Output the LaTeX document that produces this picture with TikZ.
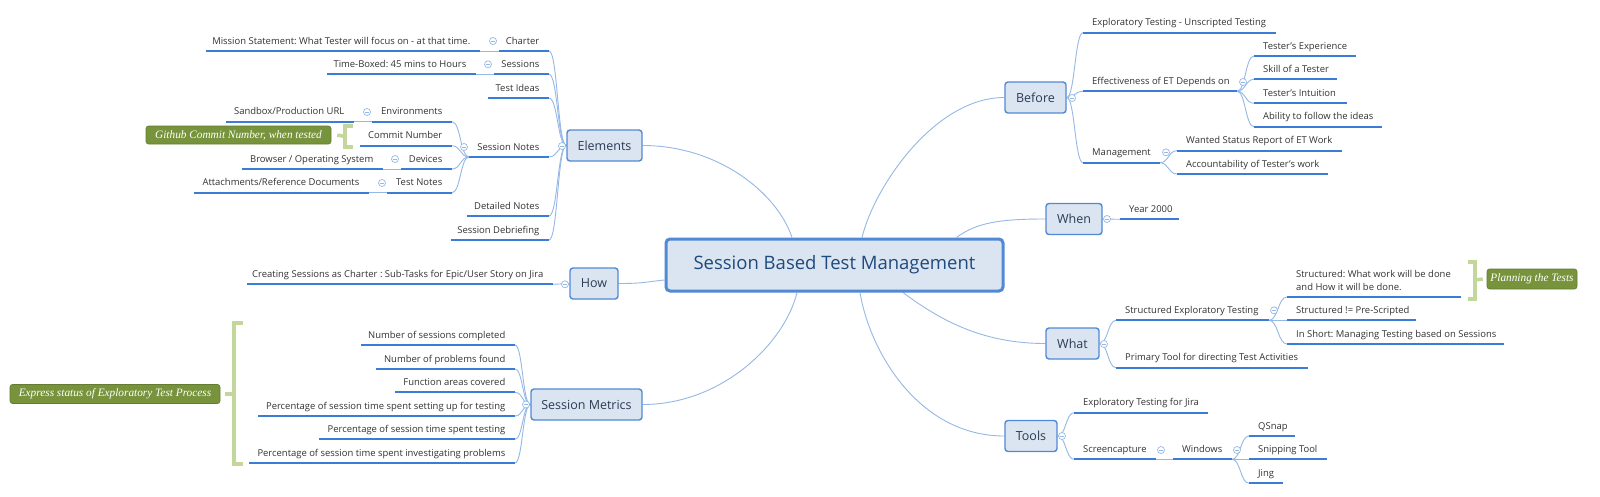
\documentclass[tikz,border=0pt]{standalone}
\usepackage{fontspec}
\setmainfont{Open Sans}
\newfontfamily\notefont{Liberation Serif}
\usetikzlibrary{calc}
\pgfdeclarelayer{back}
\pgfdeclarelayer{bg}
\pgfsetlayers{back,bg,main}
\definecolor{uline}{HTML}{3B7DD6}
\definecolor{conn}{HTML}{95B8E6}
\definecolor{boxfill}{HTML}{DBE5F1}
\definecolor{boxdraw}{HTML}{5189D4}
\definecolor{txt}{HTML}{333333}
\definecolor{toptxt}{HTML}{2B3A55}
\definecolor{maintxt}{HTML}{1F4A7C}
\definecolor{notefill}{HTML}{77933C}
\definecolor{bracket}{HTML}{C3D69B}
\tikzset{
 subtxt/.style={inner sep=0pt, font=\fontsize{9.45}{13}\selectfont, text=txt},
 uln/.style={draw=uline, line width=2.2pt},
 connline/.style={draw=conn, line width=0.9pt},
 topic/.style={draw=boxdraw, fill=boxfill, line width=1.4pt, rounded corners=3pt, font=\fontsize{12.5}{14}\selectfont, text=toptxt, inner sep=0pt},
 mainbox/.style={draw=boxdraw, fill=boxfill, line width=3pt, rounded corners=4pt, font=\fontsize{18.5}{20}\selectfont, text=maintxt, inner sep=0pt},
 notebox/.style={fill=notefill, draw=notefill!85!black, line width=0.6pt, rounded corners=2.5pt, text=white, font={\notefont\itshape\fontsize{11.3}{13}\selectfont}, inner sep=0pt},
 brk/.style={draw=bracket, line width=3.5pt},
 col/.style={circle, draw=conn, fill=white, line width=0.7pt, minimum size=7pt, inner sep=0pt,
   path picture={\draw[conn, line width=0.7pt] ([xshift=-2pt]path picture bounding box.center) -- ([xshift=2pt]path picture bounding box.center);}}
}
\newcommand\ulL[5]{%
 \coordinate (#1L) at (#2,#4); \coordinate (#1R) at (#3,#4);
 \draw[uln] (#1L) -- (#1R);
 \node[subtxt, anchor=base east] (#1) at ($(#1R)+(-9.5,-6.8)$) {#5};}
\newcommand\ulR[5]{%
 \coordinate (#1L) at (#2,#4); \coordinate (#1R) at (#3,#4);
 \draw[uln] (#1L) -- (#1R);
 \node[subtxt, anchor=base west] (#1) at ($(#1L)+(9,-6.8)$) {#5};}
\newcommand\crv[2]{\draw[connline] let \p1=(#1), \p2=(#2) in (\p1) .. controls ({(\x1+\x2)/2},\y1) and ({(\x1+\x2)/2},\y2) .. (\p2);}
\frenchspacing
\begin{document}
\begin{tikzpicture}[x=1pt,y=-1pt]
\begin{pgfonlayer}{back}\fill[white] (0,0) rectangle (1600,496);\end{pgfonlayer}
\useasboundingbox (0,0) rectangle (1600,496);

% central and main topics
\node[mainbox, minimum width=337, minimum height=52] (main) at (834.5,265) {Session Based Test Management};
\node[topic, minimum width=75, minimum height=31] (el) at (604.5,145.5) {Elements};
\node[topic, minimum width=48, minimum height=31] (how) at (594,283.5) {How};
\node[topic, minimum width=111, minimum height=31] (sm) at (586.5,404.5) {Session Metrics};
\node[topic, minimum width=61, minimum height=31] (bf) at (1035.5,97.5) {Before};
\node[topic, minimum width=56, minimum height=31] (wh) at (1074,219) {When};
\node[topic, minimum width=53, minimum height=31] (wt) at (1072.5,343.5) {What};
\node[topic, minimum width=52, minimum height=31] (tl) at (1031,436) {Tools};

% left side
\ulL{ch}{499}{549}{51}{Charter}
\ulL{ms}{206}{480}{51}{Mission Statement: What Tester will focus on - at that time.}
\ulL{se}{494}{549}{74.3}{Sessions}
\ulL{tb}{327}{476}{74.3}{Time-Boxed: 45 mins to Hours}
\ulL{id}{488}{549}{98}{Test Ideas}
\ulL{sn}{469}{549}{157}{Session Notes}
\ulL{en}{372}{452}{121.7}{Environments}
\ulL{sb}{226}{354}{121.7}{Sandbox/Production URL}
\ulL{cm}{360}{452}{145.7}{Commit Number}
\ulL{dv}{401}{452}{169}{Devices}
\ulL{br}{242}{383}{169}{Browser / Operating System}
\ulL{tn}{387}{452}{192.7}{Test Notes}
\ulL{at}{194}{369}{192.7}{Attachments/Reference Documents}
\ulL{dn}{467}{549}{216}{Detailed Notes}
\ulL{sd}{451}{549}{240}{Session Debriefing}
\ulL{cr}{247}{553}{284.3}{Creating Sessions as Charter : Sub-Tasks for Epic/User Story on Jira}
\ulL{ma}{361}{515}{345}{Number of sessions completed}
\ulL{mb}{376}{515}{369}{Number of problems found}
\ulL{mc}{395}{515}{392.3}{Function areas covered}
\ulL{md}{258}{515}{416}{Percentage of session time spent setting up for testing}
\ulL{me}{319}{515}{439.3}{Percentage of session time spent testing}
\ulL{mf}{249}{515}{463}{Percentage of session time spent investigating problems}

% right side
\ulR{ex}{1083}{1276}{32.7}{Exploratory Testing - Unscripted Testing}
\ulR{ef}{1083}{1237}{91.3}{Effectiveness of ET Depends on}
\ulR{mg}{1083}{1160}{162.7}{Management}
\ulR{tx}{1254}{1356}{56}{Tester's Experience}
\ulR{sk}{1254}{1337}{79.3}{Skill of a Tester}
\ulR{iu}{1254}{1347}{103.3}{Tester's Intuition}
\ulR{ab}{1254}{1382}{126.7}{Ability to follow the ideas}
\ulR{wa}{1177}{1342}{150.7}{Wanted Status Report of ET Work}
\ulR{ac}{1177}{1328}{174}{Accountability of Tester's work}
\ulR{yr}{1120}{1179}{219.3}{Year 2000}
\ulR{set}{1116}{1269}{320.3}{Structured Exploratory Testing}
\ulR{pt}{1116}{1308}{367.7}{Primary Tool for directing Test Activities}
\coordinate (stL) at (1287,297); \coordinate (stR) at (1461,297);
\draw[uln] (stL) -- (stR);
\node[subtxt, anchor=base west, align=left] (st) at (1296,290) {Structured: What work will be done\\and How it will be done.};
\ulR{np}{1287}{1416}{320.3}{Structured != Pre-Scripted}
\ulR{is}{1287}{1504}{344}{In Short: Managing Testing based on Sessions}
\ulR{ej}{1074}{1208}{412.7}{Exploratory Testing for Jira}
\ulR{sc}{1074}{1156}{459.3}{Screencapture}
\ulR{wi}{1173}{1232}{459.3}{Windows}
\ulR{qs}{1249}{1295}{436}{QSnap}
\ulR{sp}{1249}{1327}{459.3}{Snipping Tool}
\ulR{ji}{1249}{1283}{483.3}{Jing}

% notes
\node[notebox, minimum width=185, minimum height=18] (gh) at (238.5,135) {Github Commit Number, when tested};
\node[notebox, minimum width=210, minimum height=19] (xp) at (115,394) {Express status of Exploratory Test Process};
\node[notebox, minimum width=90, minimum height=20] (pl) at (1532,279) {Planning the Tests};

% brackets
\draw[brk] (353,126) -- (345,126) -- (345,147) -- (353,147);
\draw[brk] ([xshift=6pt]gh.east) -- (345,136.5);
\draw[brk] (243,323) -- (234,323) -- (234,464) -- (243,464);
\draw[brk] ([xshift=5pt]xp.east) -- (234,394);
\draw[brk] (1468,262) -- (1475,262) -- (1475,299) -- (1468,299);
\draw[brk] ([xshift=-4pt]pl.west) -- (1475,280);

% connectors
\begin{pgfonlayer}{bg}
\draw[connline] (el.east) .. controls +(75,0) and +(-15,-45) .. ([xshift=-42.5pt]main.north);
\draw[connline] (bf.west) .. controls +(-70,0) and +(12,-50) .. ([xshift=27.5pt]main.north);
\draw[connline] ([xshift=122pt]main.north) .. controls +(20,-15) and +(-45,0) .. (wh.west);
\draw[connline] (how.east) .. controls +(25,0) and +(-20,2) .. ([yshift=-15pt]main.west);
\draw[connline] (sm.east) .. controls +(80,0) and +(-12,50) .. ([xshift=-37.5pt]main.south);
\draw[connline] (tl.west) .. controls +(-85,0) and +(10,60) .. ([xshift=25.5pt]main.south);
\draw[connline] (wt.west) .. controls +(-60,0) and +(40,30) .. ([xshift=68.5pt]main.south);
\crv{el.west}{chR} \crv{el.west}{seR} \crv{el.west}{idR}
\crv{el.west}{snR} \crv{el.west}{dnR} \crv{el.west}{sdR}
\draw[connline] (chL) -- (msR);
\draw[connline] (seL) -- (tbR);
\crv{snL}{enR} \crv{snL}{cmR} \crv{snL}{dvR} \crv{snL}{tnR}
\draw[connline] (enL) -- (sbR);
\draw[connline] (dvL) -- (brR);
\draw[connline] (tnL) -- (atR);
\draw[connline] (how.west) -- (crR);
\crv{sm.west}{maR} \crv{sm.west}{mbR} \crv{sm.west}{mcR}
\crv{sm.west}{mdR} \crv{sm.west}{meR} \crv{sm.west}{mfR}
\crv{bf.east}{exL} \crv{bf.east}{efL} \crv{bf.east}{mgL}
\crv{efR}{txL} \crv{efR}{skL} \crv{efR}{iuL} \crv{efR}{abL}
\crv{mgR}{waL} \crv{mgR}{acL}
\draw[connline] (wh.east) -- (yrL);
\crv{wt.east}{setL} \crv{wt.east}{ptL}
\crv{setR}{stL} \crv{setR}{npL} \crv{setR}{isL}
\crv{tl.east}{ejL} \crv{tl.east}{scL}
\draw[connline] (scR) -- (wiL);
\crv{wiR}{qsL} \crv{wiR}{spL} \crv{wiR}{jiL}
\end{pgfonlayer}

% collapse markers
\node[col] (c-el) at (562,146) {};
\node[col] (c-ch) at (493,41) {};
\node[col] (c-se) at (488,64.3) {};
\node[col] (c-en) at (367,112) {};
\node[col] (c-sn) at (464,147) {};
\node[col] (c-dv) at (395,159) {};
\node[col] (c-tn) at (382,183) {};
\node[col] (c-how) at (565,284.3) {};
\node[col] (c-sm) at (526,404.5) {};
\node[col] (c-bf) at (1072,98) {};
\node[col] (c-ef) at (1243,82) {};
\node[col] (c-mg) at (1166,152.3) {};
\node[col] (c-wh) at (1107,219) {};
\node[col] (c-wt) at (1104,344) {};
\node[col] (c-set) at (1274,310.3) {};
\node[col] (c-tl) at (1062,436) {};
\node[col] (c-sc) at (1161,450) {};
\node[col] (c-wi) at (1237,450) {};
\end{tikzpicture}
\end{document}
